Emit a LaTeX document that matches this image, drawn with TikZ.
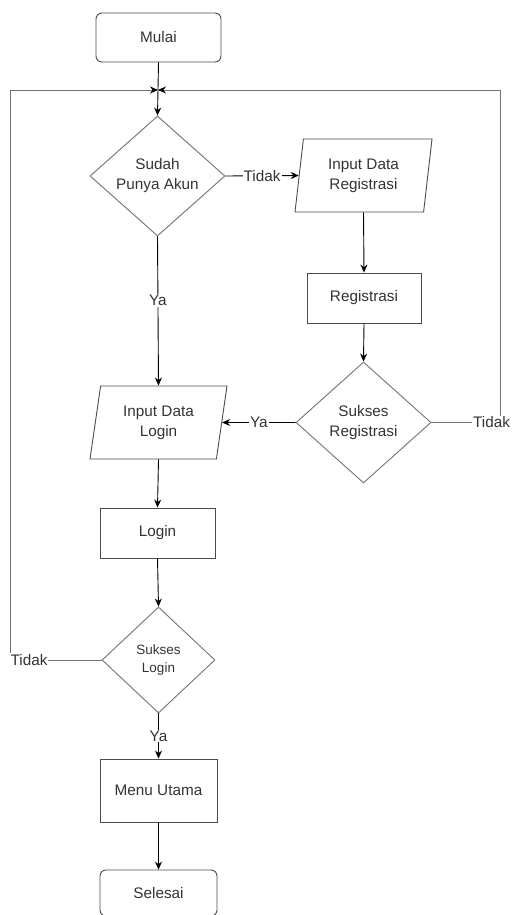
\documentclass[tikz,border=0pt]{standalone}
\usepackage{fontspec}
\setmainfont{Liberation Sans}
\usetikzlibrary{shapes.geometric,arrows.meta,calc}
\begin{document}
\begin{tikzpicture}[x=1pt,y=-1pt,
  every node/.style={font=\fontsize{15.3}{20}\selectfont, text=black!80, align=center},
  box/.style={draw=black!70, line width=0.9pt, rectangle, inner sep=0pt},
  term/.style={box, rounded corners=6pt},
  dec/.style={draw=black!55, line width=0.9pt, diamond, inner sep=0pt},
  io/.style={draw=black!70, line width=0.9pt, trapezium, trapezium stretches body, inner sep=0pt},
  arr/.style={draw=black, line width=0.9pt, -{Stealth[length=8pt,width=7pt]}},
  loopln/.style={draw=black!55, line width=0.9pt, -{Stealth[length=8pt,width=7pt,black]}},
  lbl/.style={fill=white, inner sep=1pt}
]
\useasboundingbox (0,0) rectangle (512,915);

\node[term, minimum width=125pt, minimum height=49pt] (mulai) at (158.5,37.5) {Mulai};
\node[dec, minimum width=135pt, minimum height=120pt] (d1) at (157.5,176) {Sudah\\Punya Akun};
\node[io, trapezium left angle=76, trapezium right angle=104, minimum width=137pt, minimum height=73pt] (ireg) at (363.5,175.5) {Input Data\\Registrasi};
\node[box, minimum width=114pt, minimum height=50pt] (reg) at (364,298) {Registrasi};
\node[dec, minimum width=135pt, minimum height=121pt] (d2) at (363.5,422.5) {Sukses\\Registrasi};
\node[io, trapezium left angle=72.5, trapezium right angle=107.5, minimum width=137pt, minimum height=73pt] (ild) at (158.5,422.5) {Input Data\\Login};
\node[box, minimum width=115pt, minimum height=50pt] (login) at (157.5,533) {Login};
\node[dec, minimum width=113pt, minimum height=106pt, font=\fontsize{13.5}{18}\selectfont] (d3) at (158.5,660) {Sukses\\Login};
\node[box, minimum width=117pt, minimum height=63pt] (menu) at (158.5,790.5) {Menu Utama};
\node[term, minimum width=117pt, minimum height=46pt] (selesai) at (158.5,893) {Selesai};

\coordinate (j) at (158,90);
\coordinate (lc1) at (10,660);
\coordinate (lc2) at (10,90);
\coordinate (rc1) at (500,422.5);
\coordinate (rc2) at (500,90);

% loops
\draw[loopln] (d3.west) -- (lc1) -- (lc2) -- (j);
\draw[loopln] (d2.east) -- (rc1) -- (rc2) -- (j);
\node[lbl] (t3) at (29,660) {Tidak};
\node[lbl] (t2) at (491.5,422.5) {Tidak};

\draw[arr] (mulai.south) -- (d1.north);
\draw[arr] (d1.east) -- node[lbl] (t1) {Tidak} (ireg.west);
\draw[arr] (ireg.south) -- (reg.north);
\draw[arr] (reg.south) -- (d2.north);
\draw[arr] (d2.west) -- node[lbl] (y2) {Ya} (ild.east);
\draw[arr] (d1.south) -- node[lbl, pos=0.43] (y1) {Ya} (ild.north);
\draw[arr] (ild.south) -- (login.north);
\draw[arr] (login.south) -- (d3.north);
\draw[arr] (d3.south) -- node[lbl] (y3) {Ya} (menu.north);
\draw[arr] (menu.south) -- (selesai.north);
\end{tikzpicture}
\end{document}
